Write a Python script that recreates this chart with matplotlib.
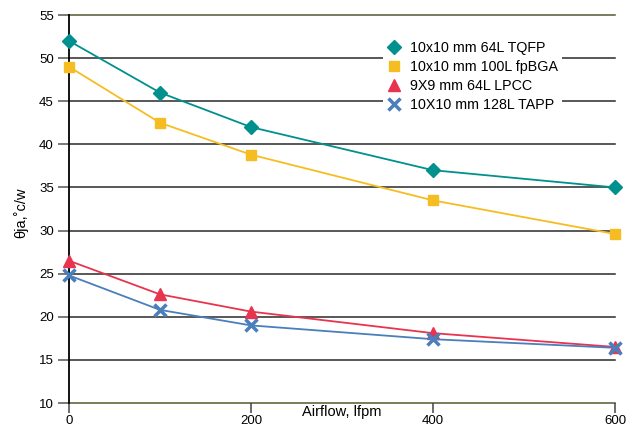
import matplotlib
matplotlib.use("Agg")
import matplotlib.pyplot as plt

plt.rcParams['font.family'] = ['Liberation Sans', 'DejaVu Sans']

airflow = [0, 100, 200, 400, 600]
tqfp = [52, 46, 42, 37, 35]
fpbga = [49, 42.5, 38.8, 33.5, 29.6]
lpcc = [26.5, 22.6, 20.6, 18.1, 16.5]
tapp = [24.8, 20.8, 19.0, 17.4, 16.4]

labels = ["10x10 mm 64L TQFP", "10x10 mm 100L fpBGA", "9X9 mm 64L LPCC", "10X10 mm 128L TAPP"]
x_ticks = [0, 200, 400, 600]
y_ticks = [10, 15, 20, 25, 30, 35, 40, 45, 50, 55]

fig = plt.figure(figsize=(6.33, 4.30), dpi=100)
ax = fig.add_axes([69 / 633, 1 - 403 / 430, 546 / 633, 388 / 430])

# grid lines drawn by hand so they extend past the left spine like the original
for yv in y_ticks:
    col = '#555a30' if yv in (10, 55) else '#2a2a2a'
    ax.axhline(yv, color=col, lw=1.1, zorder=1, clip_on=False)

ax.plot(airflow, tqfp, color='#00908e', lw=1.3, marker='D', ms=7, label=labels[0], zorder=3, clip_on=False)
ax.plot(airflow, fpbga, color='#f6bd22', lw=1.3, marker='s', ms=7.5, label=labels[1], zorder=3, clip_on=False)
ax.plot(airflow, lpcc, color='#e8344f', lw=1.3, marker='^', ms=8.5, label=labels[2], zorder=3, clip_on=False)
ax.plot(airflow, tapp, color='#4a7ebc', lw=1.3, marker='x', ms=8.5, mew=2.5, label=labels[3], zorder=3, clip_on=False)

ax.set_xlim(0, 600)
ax.set_ylim(10, 55)
ax.set_xticks(x_ticks)
ax.set_yticks(y_ticks)

for s in ['top', 'right']:
    ax.spines[s].set_visible(False)
ax.spines['bottom'].set_visible(False)
ax.spines['left'].set_color('black')
ax.spines['left'].set_linewidth(1.3)
ax.spines['left'].set_zorder(2)

ax.tick_params(axis='y', length=8, width=1.1, color='#555555', labelsize=9.5, pad=3)
ax.tick_params(axis='x', length=7, width=1.1, color='#444444', labelsize=9.5, pad=2)

ax.set_xlabel('Airflow, lfpm', fontsize=10.5)
ax.xaxis.set_label_coords(0.5, -0.023)
ax.xaxis.label.set_va('center')
ax.set_ylabel('θja,˚c/w', fontsize=10.5)
ax.yaxis.set_label_coords(-0.075, 0.49)

leg = ax.legend(loc='upper left', bbox_to_anchor=(0.575, 0.945), frameon=True,
                fontsize=10.3, handlelength=1.0, handletextpad=0.6, labelspacing=0.35,
                borderaxespad=0, borderpad=0.3)
leg.get_frame().set_edgecolor('none')
leg.get_frame().set_facecolor('white')
leg.get_frame().set_alpha(1)
for h in leg.get_lines():
    h.set_linestyle('none')
leg.set_zorder(4)

fig.savefig('out.png', dpi=100)
